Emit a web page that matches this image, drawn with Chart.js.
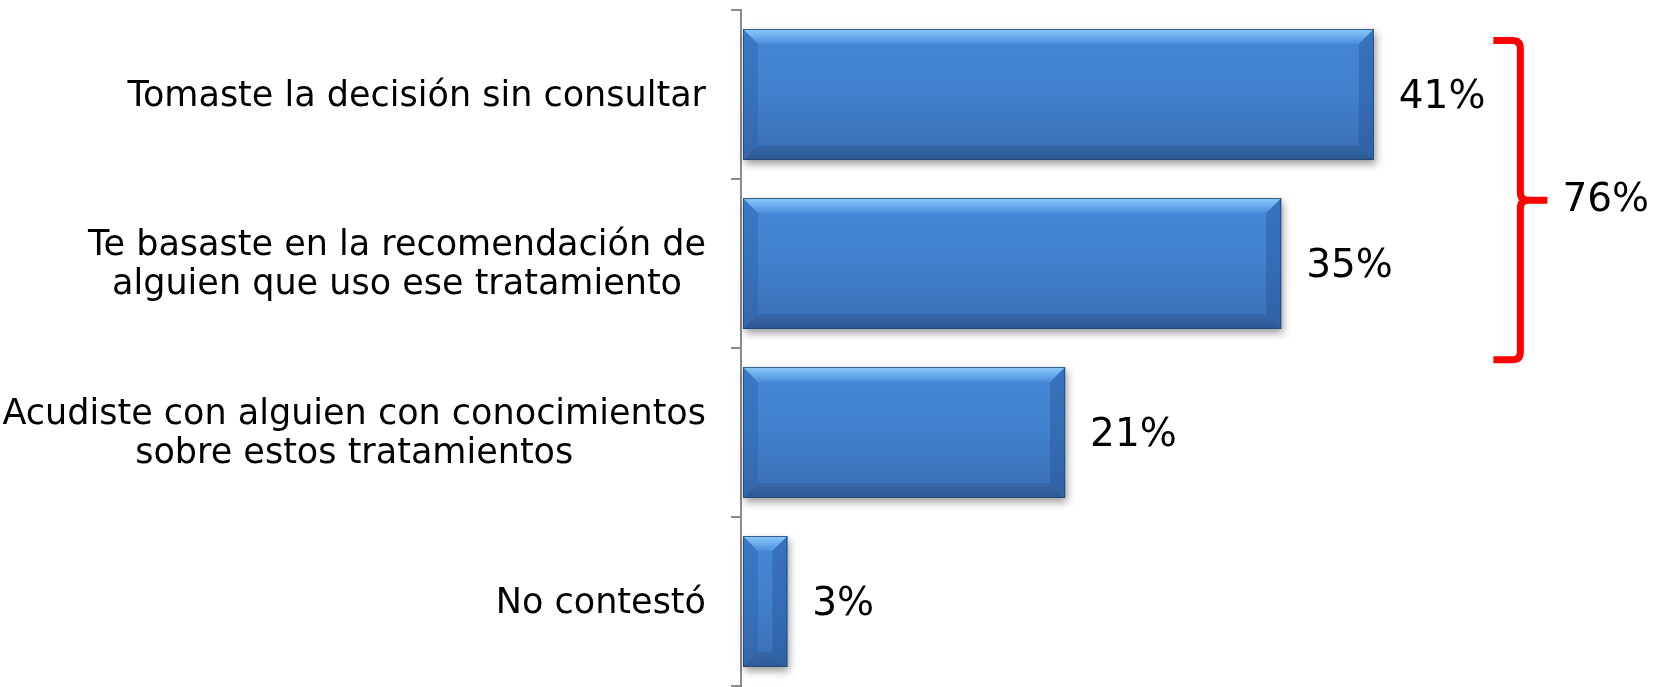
<!DOCTYPE html>
<html>
<head>
<meta charset="utf-8">
<script src="https://cdn.jsdelivr.net/npm/chart.js@4"></script>
<style>
  body { margin: 0; background: #fff; }
  canvas { display: block; }
</style>
</head>
<body>
<canvas id="myChart" width="1667" height="687"></canvas>
<script>
const categories = [
    ["Tomaste la decisión sin consultar"],
    ["Te basaste en la recomendación de", "alguien que uso ese tratamiento"],
    ["Acudiste con alguien con conocimientos", "sobre estos tratamientos"],
    ["No contestó"]
];
const percents = [41, 35, 21, 3];
const bracketGroup = [0, 1]; // categories summed in the red bracket

const FONT = "'DejaVu Sans', Verdana, sans-serif";

// category labels: block right aligned, lines centered inside block
const labelsPlugin = {
    id: 'labels',
    afterDraw(chart) {
        const ctx = chart.ctx;
        const y = chart.scales.y;
        const x = chart.scales.x;
        ctx.save();
        ctx.font = "35px " + FONT;
        ctx.fillStyle = '#000';
        ctx.textBaseline = 'middle';
        ctx.textAlign = 'center';
        const lineH = 39;
        categories.forEach(function (lines, i) {
            const cy = y.getPixelForValue(i) + 2;
            let w = 0;
            lines.forEach(function (l) { w = Math.max(w, ctx.measureText(l).width); });
            const right = x.left - 35;
            const cx = right - w / 2;
            const top = cy - (lines.length - 1) * lineH / 2;
            lines.forEach(function (l, k) {
                ctx.fillText(l, cx, top + k * lineH);
            });
        });
        ctx.restore();
    }
};

// bevel look on the bars + value labels
const bevelPlugin = {
    id: 'bevel',
    beforeDatasetsDraw(chart) {
        const ctx = chart.ctx;
        const meta = chart.getDatasetMeta(0);
        ctx.save();
        meta.data.forEach(function (bar) {
            const top = bar.y - bar.height / 2;
            ctx.shadowColor = 'rgba(0,0,0,0.4)';
            ctx.shadowBlur = 8;
            ctx.shadowOffsetX = 2;
            ctx.shadowOffsetY = 4;
            ctx.fillStyle = '#3b6fb3';
            ctx.fillRect(bar.base + 2, top, bar.x - bar.base - 2, bar.height);
        });
        ctx.restore();
    },
    afterDatasetsDraw(chart) {
        const ctx = chart.ctx;
        const meta = chart.getDatasetMeta(0);
        ctx.save();
        meta.data.forEach(function (bar, i) {
            const left = bar.base + 2;
            const right = bar.x;
            const top = bar.y - bar.height / 2;
            const bottom = bar.y + bar.height / 2;
            const b = 15;
            const g = ctx.createLinearGradient(0, top, 0, bottom);
            g.addColorStop(0, '#4688d7');
            g.addColorStop(0.5, '#4080cc');
            g.addColorStop(1, '#3a6fb4');
            ctx.fillStyle = g;
            ctx.fillRect(left, top, right - left, bottom - top);
            // left bevel
            ctx.fillStyle = 'rgba(40,90,160,0.35)';
            ctx.beginPath();
            ctx.moveTo(left, top); ctx.lineTo(left, bottom);
            ctx.lineTo(left + b, bottom - b); ctx.lineTo(left + b, top + b);
            ctx.closePath(); ctx.fill();
            // right bevel
            ctx.fillStyle = 'rgba(30,75,140,0.35)';
            ctx.beginPath();
            ctx.moveTo(right, top); ctx.lineTo(right, bottom);
            ctx.lineTo(right - b, bottom - b); ctx.lineTo(right - b, top + b);
            ctx.closePath(); ctx.fill();
            // top bevel
            const gt = ctx.createLinearGradient(0, top, 0, top + b);
            gt.addColorStop(0, '#8fccf8');
            gt.addColorStop(0.5, '#6aaced');
            gt.addColorStop(1, '#4c8edb');
            ctx.fillStyle = gt;
            ctx.beginPath();
            ctx.moveTo(left, top); ctx.lineTo(right, top);
            ctx.lineTo(right - b, top + b); ctx.lineTo(left + b, top + b);
            ctx.closePath(); ctx.fill();
            // bottom bevel
            const gb = ctx.createLinearGradient(0, bottom - b, 0, bottom);
            gb.addColorStop(0, '#3768aa');
            gb.addColorStop(1, '#2d5893');
            ctx.fillStyle = gb;
            ctx.beginPath();
            ctx.moveTo(left, bottom); ctx.lineTo(right, bottom);
            ctx.lineTo(right - b, bottom - b); ctx.lineTo(left + b, bottom - b);
            ctx.closePath(); ctx.fill();
            ctx.strokeStyle = 'rgba(35,70,120,0.8)';
            ctx.lineWidth = 1;
            ctx.strokeRect(left + 0.5, top + 0.5, right - left - 1, bottom - top - 1);

            // value label
            ctx.fillStyle = '#000';
            ctx.font = "39px " + FONT;
            ctx.textAlign = 'left';
            ctx.textBaseline = 'middle';
            ctx.fillText(percents[i] + '%', right + 25, bar.y + 3);
        });
        ctx.restore();
    }
};

// red bracket over the first two answers
const bracketPlugin = {
    id: 'bracket',
    afterDraw(chart) {
        const ctx = chart.ctx;
        const y = chart.scales.y;
        const x = chart.scales.x;
        const catH = y.getPixelForValue(1) - y.getPixelForValue(0);
        const top = y.getPixelForValue(bracketGroup[0]) - 0.32 * catH;
        const bottom = y.getPixelForValue(bracketGroup[1]) + 0.57 * catH;
        const mid = (top + bottom) / 2;
        const bx = x.getPixelForValue(50.5);
        const r = 8;
        ctx.save();
        ctx.strokeStyle = '#ff0000';
        ctx.lineWidth = 7;
        ctx.lineCap = 'butt';
        ctx.beginPath();
        ctx.moveTo(bx - 27, top);
        ctx.lineTo(bx - r, top);
        ctx.quadraticCurveTo(bx, top, bx, top + r);
        ctx.lineTo(bx, mid - r);
        ctx.quadraticCurveTo(bx, mid, bx + r, mid);
        ctx.lineTo(bx + 27, mid);
        ctx.moveTo(bx + r, mid);
        ctx.quadraticCurveTo(bx, mid, bx, mid + r);
        ctx.lineTo(bx, bottom - r);
        ctx.quadraticCurveTo(bx, bottom, bx - r, bottom);
        ctx.lineTo(bx - 27, bottom);
        ctx.stroke();
        const total = bracketGroup.reduce(function (s, k) { return s + percents[k]; }, 0);
        ctx.fillStyle = '#000';
        ctx.font = "39px " + FONT;
        ctx.textAlign = 'left';
        ctx.textBaseline = 'middle';
        ctx.fillText(total + '%', bx + 42, mid + 1);
        ctx.restore();
    }
};

const ctx = document.getElementById('myChart').getContext('2d');
const myChart = new Chart(ctx, {
    type: 'bar',
    data: {
        labels: categories,
        datasets: [{
            label: 'Respuestas',
            data: percents,
            backgroundColor: 'rgba(0,0,0,0)',
            borderWidth: 0,
            categoryPercentage: 1,
            barPercentage: 0.775
        }]
    },
    options: {
        indexAxis: 'y',
        responsive: false,
        animation: false,
        layout: { padding: { left: 731, top: 10, bottom: 1, right: 0 } },
        plugins: {
            legend: { display: false },
            tooltip: { enabled: false }
        },
        scales: {
            x: {
                display: false,
                min: 0,
                max: 60
            },
            y: {
                ticks: { display: false },
                grid: {
                    offset: true,
                    drawOnChartArea: false,
                    drawTicks: true,
                    tickLength: 10,
                    color: '#8c8c8c',
                    lineWidth: 2
                },
                border: { display: true, color: '#8c8c8c', width: 2 }
            }
        }
    },
    plugins: [bevelPlugin, labelsPlugin, bracketPlugin]
});
</script>
</body>
</html>
